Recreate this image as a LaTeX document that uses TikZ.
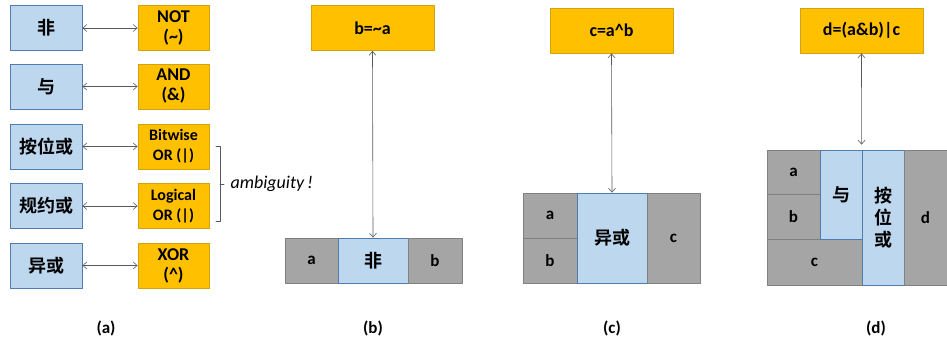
\documentclass[tikz,border=0pt]{standalone}
\usepackage{fontspec}
\setmainfont{Carlito}
\newfontfamily\cjk{Noto Sans CJK SC}[BoldFont={* Bold}]
\usetikzlibrary{arrows.meta}
\definecolor{opfill}{HTML}{BDD7EE}
\definecolor{opline}{HTML}{4F7CAC}
\definecolor{symfill}{HTML}{FFC000}
\definecolor{symline}{HTML}{D4A20C}
\definecolor{varfill}{HTML}{A5A5A5}
\definecolor{varline}{HTML}{808080}
\definecolor{linkgray}{HTML}{595959}
\begin{document}
\begin{tikzpicture}[x=1pt, y=-1pt, line cap=round, line join=round,
    opbox/.style={draw=opline, fill=opfill, line width=0.8pt, inner sep=0pt, align=center,
        font=\cjk\bfseries\fontsize{18}{21}\selectfont},
    symbox/.style={draw=symline, fill=symfill, line width=0.8pt, inner sep=0pt, align=center,
        minimum height=45pt, font=\bfseries\fontsize{18}{20}\selectfont},
    varbox/.style={draw=varline, fill=varfill, line width=0.8pt, inner sep=0pt,
        font=\bfseries\fontsize{17}{18}\selectfont},
    link/.style={draw=linkgray, line width=0.6pt, {Straight Barb[length=4pt,width=7pt]}-{Straight Barb[length=4pt,width=7pt]}},
    caption/.style={font=\bfseries\fontsize{17}{18}\selectfont}]

    \useasboundingbox (0,0) rectangle (947,345);

    % (a)
    \node[opbox, minimum width=72pt, minimum height=45pt] (fei)   at (46,28)    {非};
    \node[opbox, minimum width=72pt, minimum height=45pt] (yu)    at (46,86.5)  {与};
    \node[opbox, minimum width=72pt, minimum height=45pt] (anwei) at (46,146.5) {按位或};
    \node[opbox, minimum width=72pt, minimum height=45pt] (guiyue) at (46,206) {规约或};
    \node[opbox, minimum width=72pt, minimum height=45pt] (yihuo) at (46,265.5) {异或};

    \node[symbox, minimum width=71pt] (opnot) at (173.5,28)    {NOT\\(\textasciitilde)};
    \node[symbox, minimum width=71pt] (opand) at (173.5,86.5)  {AND\\(\&)};
    \node[symbox, minimum width=71pt, font=\bfseries\fontsize{16}{20}\selectfont] (opbor) at (173.5,146.5) {Bitwise\\OR (|)};
    \node[symbox, minimum width=71pt, font=\bfseries\fontsize{16}{20}\selectfont] (oplor) at (173.5,206)   {Logical\\OR (|)};
    \node[symbox, minimum width=71pt] (opxor) at (173.5,265.5) {XOR\\(\textasciicircum)};

    \draw[link] (fei) -- (opnot);
    \draw[link] (yu) -- (opand);
    \draw[link] (anwei) -- (opbor);
    \draw[link] (guiyue) -- (oplor);
    \draw[link] (yihuo) -- (opxor);

    \draw[linkgray, line width=0.6pt] (216,146.5) -- (220,146.5) -- (220,221) -- (216,221);
    \draw[linkgray, line width=0.6pt] (220,184) -- (224,184);
    \node[anchor=west, font=\itshape\fontsize{18}{20}\selectfont] (ambig) at (227,184) {ambiguity\,!};

    \node[caption] (capa) at (106,328) {(a)};

    % (b)
    \node[symbox, minimum width=123pt] (bexpr) at (372.5,28) {b=\textasciitilde a};
    \node[varbox, minimum width=53pt, minimum height=45pt] (ba) at (311.5,260.5) {a};
    \node[opbox, minimum width=70pt, minimum height=45pt] (bnot) at (373,260.5) {非};
    \node[varbox, minimum width=54pt, minimum height=45pt] (bb) at (435,260.5) {b};
    \draw[link] (bexpr.south) -- (bnot.north);

    \node[caption] (capb) at (373,328) {(b)};

    % (c)
    \node[symbox, minimum width=123pt] (cexpr) at (611.5,30.5) {c=a\textasciicircum b};
    \node[varbox, minimum width=54pt, minimum height=45pt] (ca) at (550,215.5) {a};
    \node[varbox, minimum width=54pt, minimum height=45pt] (cb) at (550,260.5) {b};
    \node[opbox, minimum width=70pt, minimum height=90pt] (cxor) at (612,238) {异或};
    \node[varbox, minimum width=53pt, minimum height=90pt] (cc) at (673.5,238) {c};
    \draw[link] (cexpr.south) -- (cxor.north);

    \node[caption] (capc) at (612,328) {(c)};

    % (d)
    \node[symbox, minimum width=123pt] (dexpr) at (861.5,30.5) {d=(a\&b)|c};
    \node[varbox, minimum width=53pt, minimum height=44pt] (da) at (793.5,172) {a};
    \node[varbox, minimum width=53pt, minimum height=45pt] (db) at (793.5,216.5) {b};
    \node[varbox, minimum width=95pt, minimum height=46pt] (dc) at (814.5,262) {c};
    \node[opbox, minimum width=42pt, minimum height=89pt] (dand) at (841,194.5) {与};
    \node[opbox, minimum width=42pt, minimum height=135pt, font=\cjk\bfseries\fontsize{18}{22}\selectfont] (dor) at (883,217.5) {按\\位\\或};
    \node[varbox, minimum width=43pt, minimum height=135pt] (dd) at (925.5,217.5) {d};
    \draw[link] (dexpr.south) -- ([yshift=5pt]dor.north west);

    \node[caption] (capd) at (876,328) {(d)};

\end{tikzpicture}
\end{document}
